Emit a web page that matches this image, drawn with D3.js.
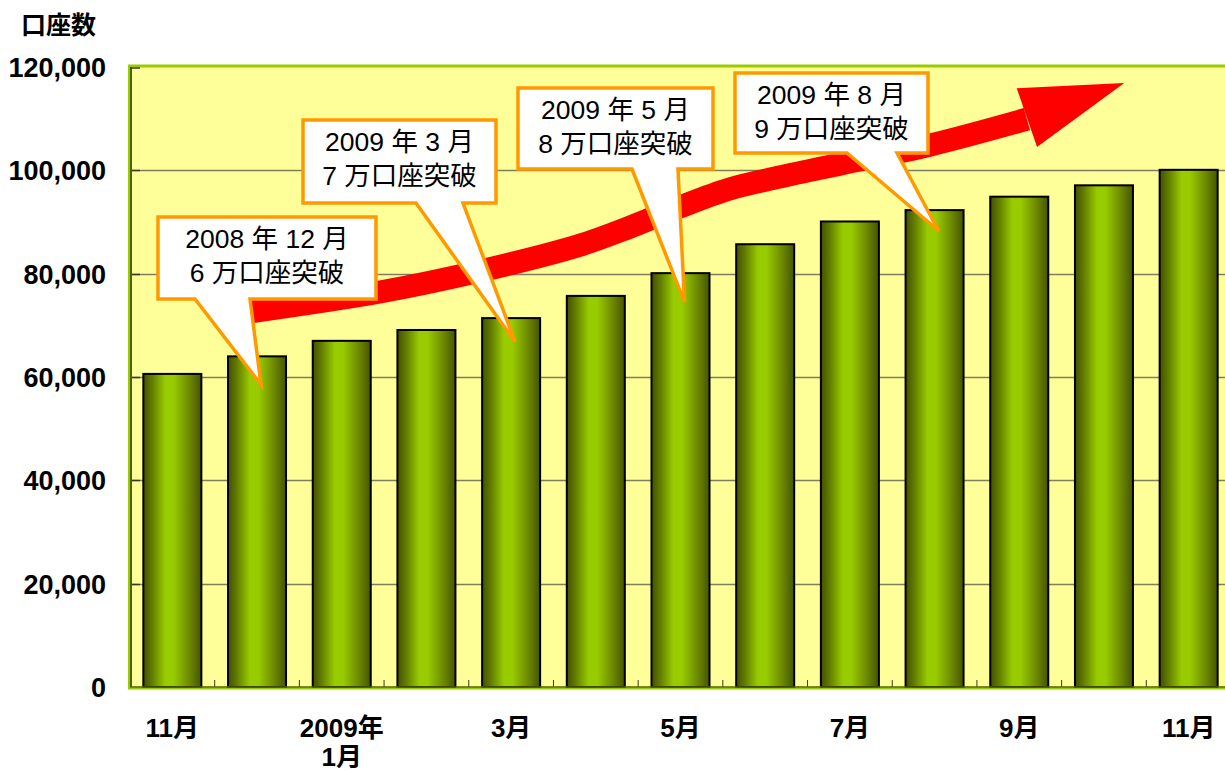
<!DOCTYPE html>
<html>
<head>
<meta charset="utf-8">
<script src="https://cdn.jsdelivr.net/npm/d3@7"></script>
<style>
  body { margin: 0; background: #fff; }
  svg { display: block; }
</style>
</head>
<body>
<div id="chart"></div>
<script>
// 口座数の推移 (2008年11月〜2009年11月)
const months = ['2008-11', '2008-12', '2009-01', '2009-02', '2009-03', '2009-04', '2009-05',
                '2009-06', '2009-07', '2009-08', '2009-09', '2009-10', '2009-11'];
const accounts = [60600, 64000, 67000, 69100, 71400, 75700, 80100, 85700, 90100, 92300, 94900, 97100, 100100];

// x軸ラベル (index -> lines)
const xLabels = [
    { i: 0, lines: ['11月'] },
    { i: 2, lines: ['2009年', '1月'] },
    { i: 4, lines: ['3月'] },
    { i: 6, lines: ['5月'] },
    { i: 8, lines: ['7月'] },
    { i: 10, lines: ['9月'] },
    { i: 12, lines: ['11月'] }
];
const yTicks = [0, 20000, 40000, 60000, 80000, 100000, 120000];

// 吹き出し: 指すバーと文言
const callouts = [
    { i: 1, tipValue: 58500, lines: ['2008 年 12 月', '6 万口座突破'], box: [158, 217, 376, 299], base: [195, 250] },
    { i: 4, tipValue: 66800, lines: ['2009 年 3 月', '7 万口座突破'], box: [303, 120, 496, 203], base: [416, 463] },
    { i: 6, tipValue: 74500, lines: ['2009 年 5 月', '8 万口座突破'], box: [518, 88, 713, 169], base: [632, 678] },
    { i: 9, tipValue: 88300, lines: ['2009 年 8 月', '9 万口座突破'], box: [735, 73, 928, 153], base: [847, 897] }
];

// 上昇矢印 (bar index, value)
const arrowBody = [[0.92, 72600], [2.45, 76450], [3.63, 80500], [4.81, 85500], [5.40, 89000],
                   [5.99, 92900], [6.58, 96400], [7.17, 98700], [7.88, 101200], [8.95, 104900], [10.09, 109900]];
const arrowHead = [[9.97, 115900], [11.24, 116900], [10.21, 104500]];

const W = 1225, H = 771;
const plot = { left: 130, top: 66, right: 1225, bottom: 687 };
const fontFam = '"Liberation Sans", Arial, "Noto Sans CJK JP", sans-serif';

const svg = d3.select('#chart').append('svg')
    .attr('width', W)
    .attr('height', H);

const x = d3.scaleBand()
    .domain(months)
    .range([plot.left, 1231])
    .paddingInner(0.315)
    .paddingOuter(0.1575);

const y = d3.scaleLinear()
    .domain([0, 120000])
    .range([plot.bottom, 67]);

const step = x.step();
const x0 = x(months[0]) - x.paddingOuter() * step;
const xi = idx => x0 + (idx + 0.5) * step;

// gradient for bars
const defs = svg.append('defs');
const grad = defs.append('linearGradient')
    .attr('id', 'barGrad')
    .attr('x1', '0%').attr('x2', '100%').attr('y1', '0%').attr('y2', '0%');
[[0, '#435000'], [0.15, '#627c00'], [0.38, '#99cc00'], [0.52, '#99cc00'], [0.78, '#6f8c00'], [1, '#465400']]
    .forEach(s => grad.append('stop').attr('offset', s[0]).attr('stop-color', s[1]));

// plot background
svg.append('rect')
    .attr('x', plot.left)
    .attr('y', plot.top)
    .attr('width', plot.right - plot.left)
    .attr('height', plot.bottom - plot.top)
    .attr('fill', '#ffff99');

// gridlines
svg.selectAll('.grid')
    .data(yTicks.filter(d => d > 0 && d < 120000))
    .enter()
    .append('line')
    .attr('x1', plot.left)
    .attr('x2', plot.right)
    .attr('y1', d => Math.round(y(d)) + 0.5)
    .attr('y2', d => Math.round(y(d)) + 0.5)
    .attr('stroke', '#7f7f60')
    .attr('stroke-width', 1.3);

// y ticks (inside)
svg.selectAll('.ytick')
    .data(yTicks.filter(d => d > 0 && d < 120000))
    .enter()
    .append('line')
    .attr('x1', plot.left)
    .attr('x2', plot.left + 10)
    .attr('y1', d => Math.round(y(d)) + 0.5)
    .attr('y2', d => Math.round(y(d)) + 0.5)
    .attr('stroke', '#3a3a20')
    .attr('stroke-width', 1.5);

// x ticks between bars
svg.selectAll('.xtick')
    .data(d3.range(1, months.length))
    .enter()
    .append('line')
    .attr('x1', d => x0 + d * step)
    .attr('x2', d => x0 + d * step)
    .attr('y1', plot.bottom)
    .attr('y2', plot.bottom - 7)
    .attr('stroke', '#3a3a20')
    .attr('stroke-width', 1);

// bars
svg.selectAll('.bar')
    .data(accounts)
    .enter()
    .append('rect')
    .attr('x', (d, i) => x(months[i]))
    .attr('y', d => y(d))
    .attr('width', x.bandwidth())
    .attr('height', d => plot.bottom - y(d))
    .attr('fill', 'url(#barGrad)')
    .attr('stroke', '#000')
    .attr('stroke-width', 2);

// frame: green border + dark axis lines
svg.append('line')
    .attr('x1', plot.left).attr('x2', plot.right)
    .attr('y1', plot.top).attr('y2', plot.top)
    .attr('stroke', '#99cc00').attr('stroke-width', 3);
svg.append('line')
    .attr('x1', plot.left - 1).attr('x2', plot.left - 1)
    .attr('y1', plot.top - 1.5).attr('y2', plot.bottom + 2)
    .attr('stroke', '#99cc00').attr('stroke-width', 2);
svg.append('line')
    .attr('x1', plot.left - 2).attr('x2', plot.right)
    .attr('y1', plot.bottom + 1.5).attr('y2', plot.bottom + 1.5)
    .attr('stroke', '#99cc00').attr('stroke-width', 2);
svg.append('line')
    .attr('x1', plot.left + 1).attr('x2', plot.left + 1)
    .attr('y1', plot.top + 1).attr('y2', plot.bottom)
    .attr('stroke', '#4f6000').attr('stroke-width', 2);
svg.append('line')
    .attr('x1', plot.left).attr('x2', plot.right)
    .attr('y1', plot.bottom).attr('y2', plot.bottom)
    .attr('stroke', '#4f6000').attr('stroke-width', 1.5);
// small dark corner at top-left
svg.append('line')
    .attr('x1', plot.left).attr('x2', plot.left + 10)
    .attr('y1', plot.top + 2).attr('y2', plot.top + 2)
    .attr('stroke', '#3a3a20').attr('stroke-width', 1.5);

// red arrow
const arrowLine = d3.line()
    .x(d => xi(d[0]))
    .y(d => y(d[1]))
    .curve(d3.curveCatmullRom);

svg.append('path')
    .attr('d', arrowLine(arrowBody))
    .attr('fill', 'none')
    .attr('stroke', '#ff0000')
    .attr('stroke-width', 23);

svg.append('path')
    .attr('d', d3.line().x(d => xi(d[0])).y(d => y(d[1]))(arrowHead) + 'Z')
    .attr('fill', '#ff0000');

// callouts
callouts.forEach(c => {
    const [l, t, r, b] = c.box;
    const tx = xi(c.i) + 4;
    const ty = y(c.tipValue);
    const pts = [[l, t], [r, t], [r, b], [c.base[1], b], [tx, ty], [c.base[0], b], [l, b]];

    const g = svg.append('g');
    g.append('path')
        .attr('d', d3.line()(pts) + 'Z')
        .attr('fill', '#fff')
        .attr('stroke', '#ff9900')
        .attr('stroke-width', 3.5)
        .attr('stroke-linejoin', 'miter');

    c.lines.forEach((s, k) => {
        g.append('text')
            .attr('x', (l + r) / 2)
            .attr('y', t + 31 + k * 34)
            .attr('text-anchor', 'middle')
            .style('font-family', fontFam)
            .style('font-size', '26.5px')
            .attr('fill', '#000')
            .text(s);
    });
});

// y axis labels
svg.selectAll('.ylab')
    .data(yTicks)
    .enter()
    .append('text')
    .attr('x', 106)
    .attr('y', d => y(d) + 10)
    .attr('text-anchor', 'end')
    .style('font-family', fontFam)
    .style('font-size', '27px')
    .style('font-weight', 'bold')
    .attr('fill', '#000')
    .text(d => d3.format(',')(d));

// x axis labels
xLabels.forEach(lab => {
    lab.lines.forEach((s, k) => {
        svg.append('text')
            .attr('x', xi(lab.i))
            .attr('y', 737 + k * 29)
            .attr('text-anchor', 'middle')
            .style('font-family', fontFam)
            .style('font-size', '26px')
            .style('font-weight', 'bold')
            .attr('fill', '#000')
            .text(s);
    });
});

// axis title
svg.append('text')
    .attr('x', 21)
    .attr('y', 34)
    .style('font-family', '"Noto Sans CJK JP", sans-serif')
    .style('font-size', '25px')
    .style('font-weight', 'bold')
    .attr('fill', '#000')
    .text('口座数');
</script>
</body>
</html>
